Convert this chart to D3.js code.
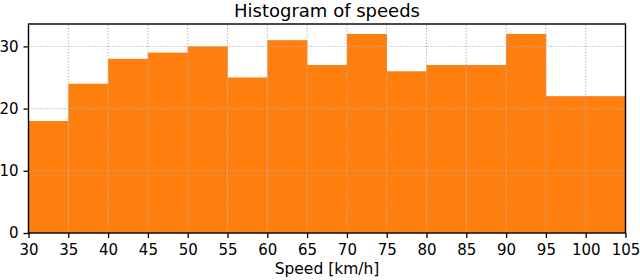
<!DOCTYPE html>
<html><head><meta charset="utf-8">
<script src="https://cdn.jsdelivr.net/npm/d3@7"></script>
<style>body{margin:0;background:#fff}svg{display:block}text{font-family:"DejaVu Sans",sans-serif}</style>
</head><body><svg id="c" width="640" height="280"></svg>
<script>
const binEdges = [30,35,40,45,50,55,60,65,70,75,80,85,90,95,100,105];
const counts = [18,24,28,29,30,25,31,27,32,26,27,27,32,22,22];
const xTicks = [30,35,40,45,50,55,60,65,70,75,80,85,90,95,100,105];
const yTicks = [0,10,20,30];
const title = "Histogram of speeds";
const xLabel = "Speed [km/h]";

const svg = d3.select("#c");
const m = {l:28.5, r:14.5, t:24, b:47};
const W = 640, H = 280;
const x = d3.scaleLinear().domain([30,105]).range([m.l, W-m.r]);
const y = d3.scaleLinear().domain([0, 33.6]).range([H-m.b, m.t]);

svg.append("g").selectAll("rect").data(counts).join("rect")
  .attr("x", (d,i)=>x(binEdges[i]))
  .attr("width", (d,i)=>x(binEdges[i+1])-x(binEdges[i])+0.3)
  .attr("y", d=>y(d))
  .attr("height", d=>y(0)-y(d))
  .attr("fill", "#ff7f0e");

const grid = svg.append("g").attr("stroke","#b0b0b0").attr("stroke-width",1).attr("stroke-dasharray","1.2,1.8");
grid.selectAll("line.v").data(xTicks).join("line").attr("class","v")
  .attr("x1",d=>x(d)).attr("x2",d=>x(d))
  .attr("y1",y.range()[0]).attr("y2",y.range()[1]);
grid.selectAll("line.h").data(yTicks).join("line").attr("class","h")
  .attr("y1",d=>y(d)).attr("y2",d=>y(d))
  .attr("x1",x.range()[0]).attr("x2",x.range()[1]);

svg.append("rect").attr("x",m.l).attr("y",m.t).attr("width",W-m.r-m.l).attr("height",H-m.b-m.t)
  .attr("fill","none").attr("stroke","#000").attr("stroke-width",1.4);

const xa = svg.append("g").attr("transform",`translate(0,${H-m.b})`)
  .call(d3.axisBottom(x).tickValues(xTicks).tickSize(5).tickPadding(6).tickFormat(d3.format("d")));
const ya = svg.append("g").attr("transform",`translate(${m.l},0)`)
  .call(d3.axisLeft(y).tickValues(yTicks).tickSize(5).tickPadding(5).tickFormat(d3.format("d")));
[xa,ya].forEach(a=>{a.select(".domain").remove();a.selectAll("line").attr("stroke","#000").attr("stroke-width",1.3);
  a.selectAll("text").attr("font-size",15).attr("fill","#000").attr("font-family","DejaVu Sans");});

svg.append("text").attr("x",(m.l+W-m.r)/2).attr("y",16.5).attr("text-anchor","middle")
  .attr("font-size",18).text(title);
svg.append("text").attr("x",(m.l+W-m.r)/2).attr("y",273.5).attr("text-anchor","middle")
  .attr("font-size",15.5).text(xLabel);
</script></body></html>
